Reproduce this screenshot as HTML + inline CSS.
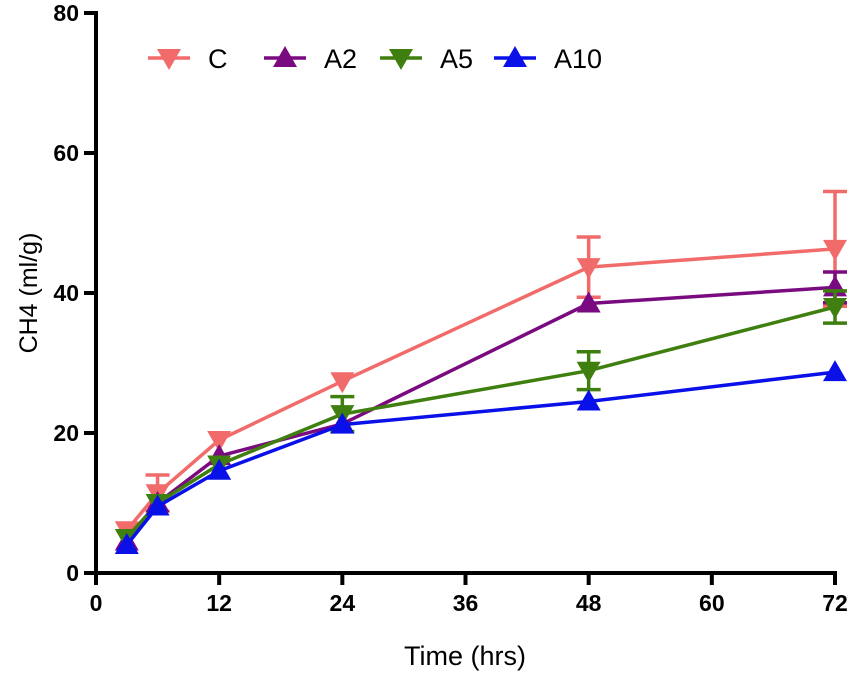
<!DOCTYPE html>
<html><head><meta charset="utf-8"><style>
body{margin:0;background:#fff;}
svg text{font-family:"Liberation Sans",sans-serif;fill:#000;}
</style></head><body>
<svg id="chart" width="855" height="676"></svg>
<script>
const xTicks=[0,12,24,36,48,60,72];
const yTicks=[0,20,40,60,80];
const times=[3,6,12,24,48,72];
const seriesNames=["C","A2","A5","A10"];
const valsC=[6.1,11.4,19,27.4,43.7,46.3];
const errC=[0,2.6,0,0,4.3,8.2];
const valsA2=[4.5,10,16.7,21.3,38.5,40.8];
const errA2=[0,0,0,0,0,2.2];
const valsA5=[5,10,15.5,22.7,28.9,38];
const errA5=[0,0,0,2.5,2.7,2.3];
const valsA10=[4,9.5,14.6,21.2,24.5,28.7];
const errA10=[0,0,0,0,0,0];
const colors=["#f26b6b","#7a0a80","#3f7f0f","#0a10e8"];
const downMarker=[true,false,true,false];
const allVals=[valsC,valsA2,valsA5,valsA10];
const allErr=[errC,errA2,errA5,errA10];

const svg=document.getElementById('chart');
const NS='http://www.w3.org/2000/svg';
const X0=96,X1=835,Y0=573,Y1=13;
const xs=v=>X0+(v-0)/72*(X1-X0);
const ys=v=>Y0-(v-0)/80*(Y0-Y1);
function mk(tag,attrs,parent){const e=document.createElementNS(NS,tag);for(const k in attrs)e.setAttribute(k,attrs[k]);(parent||svg).appendChild(e);return e;}
function tri(x,y,down,c,parent){const s=12;const p=down?`${x-s},${y-9} ${x+s},${y-9} ${x},${y+12}`:`${x-s},${y+9} ${x+s},${y+9} ${x},${y-12}`;return mk('polygon',{points:p,fill:c},parent);}

const ax=mk('g',{});


mk('line',{x1:X0,y1:Y1-2,x2:X0,y2:Y0+2,stroke:'#000','stroke-width':4},ax);
mk('line',{x1:X0-2,y1:Y0,x2:X1+2,y2:Y0,stroke:'#000','stroke-width':4},ax);
xTicks.forEach(t=>{
 mk('line',{x1:xs(t),y1:Y0,x2:xs(t),y2:Y0+12,stroke:'#000','stroke-width':4},ax);
 const tx=mk('text',{x:xs(t),y:Y0+38,'text-anchor':'middle','font-size':23,'font-weight':'bold'},ax);tx.textContent=t;
 
 
});
yTicks.forEach(t=>{
 mk('line',{x1:X0-12,y1:ys(t),x2:X0,y2:ys(t),stroke:'#000','stroke-width':4},ax);
 const tx=mk('text',{x:X0-17,y:ys(t)+8,'text-anchor':'end','font-size':23,'font-weight':'bold'},ax);tx.textContent=t;
 
 
});
const xt=mk('text',{x:465,y:665,'text-anchor':'middle','font-size':27});xt.textContent='Time (hrs)';


const yt=mk('text',{x:0,y:0,'text-anchor':'middle','font-size':25,transform:'translate(37,293) rotate(-90)'});yt.textContent='CH4 (ml/g)';



allVals.forEach((vals,i)=>{
 const g=mk('g',{});
 
 
 const c=colors[i];
 vals.forEach((v,j)=>{const e=allErr[i][j];if(e>0){const x=xs(times[j]);
  mk('line',{x1:x,y1:ys(v-e),x2:x,y2:ys(v+e),stroke:c,'stroke-width':3.5},g);
  mk('line',{x1:x-12,y1:ys(v+e),x2:x+12,y2:ys(v+e),stroke:c,'stroke-width':3.5},g);
  mk('line',{x1:x-12,y1:ys(v-e),x2:x+12,y2:ys(v-e),stroke:c,'stroke-width':3.5},g);}});
 mk('polyline',{points:vals.map((v,j)=>xs(times[j])+','+ys(v)).join(' '),fill:'none',stroke:c,'stroke-width':3.5},g);
 vals.forEach((v,j)=>{const m=tri(xs(times[j]),ys(v),downMarker[i],c,g);
  
  });
});

const lx=[148,264,380,494];
seriesNames.forEach((n,i)=>{
 const g=mk('g',{});
 
 
 mk('line',{x1:lx[i],y1:58,x2:lx[i]+42,y2:58,stroke:colors[i],'stroke-width':3.5},g);
 tri(lx[i]+21,58,downMarker[i],colors[i],g);
 const t=mk('text',{x:lx[i]+60,y:68,'font-size':27},g);t.textContent=n;
});
</script>
</body></html>
